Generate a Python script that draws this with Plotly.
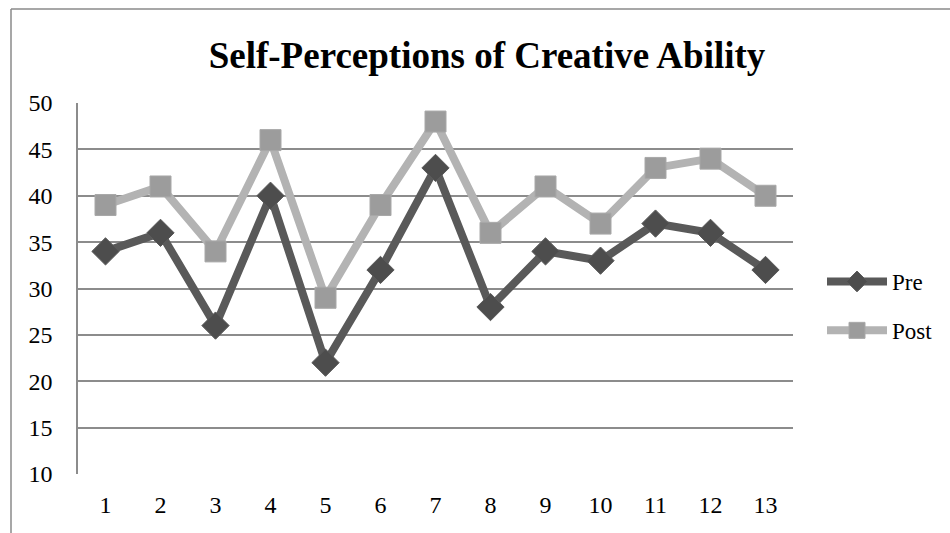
import plotly.graph_objects as go

# Survey items 1-13, scores before and after
items = [str(i) for i in range(1, 14)]
pre_scores = [34, 36, 26, 40, 22, 32, 43, 28, 34, 33, 37, 36, 32]
post_scores = [39, 41, 34, 46, 29, 39, 48, 36, 41, 37, 43, 44, 40]
y_ticks = [10, 15, 20, 25, 30, 35, 40, 45, 50]

W, H = 950, 533
L, R, T, B = 78, 157, 103, 59
pw, ph = W - L - R, H - T - B

FONT = "Liberation Serif"
GRID = "#8c8c8c"

fig = go.Figure()
fig.add_trace(go.Scatter(
    x=items, y=pre_scores, name="Pre", mode="lines+markers",
    legendgroup="pre",
    line=dict(color="#595959", width=8),
    marker=dict(symbol="diamond", size=21, color="#4d4d4d",
                line=dict(color="#5a5a5a", width=1)),
))
fig.add_trace(go.Scatter(
    x=items, y=post_scores, name="Post", mode="lines+markers",
    legendgroup="post",
    line=dict(color="#b3b3b3", width=8),
    marker=dict(symbol="square", size=21, color="#9c9c9c",
                line=dict(color="#a8a8a8", width=1)),
))


def px_x(v):
    return (v - L) / pw


def px_y(v):
    return (H - B - v) / ph


# outer frame (top and left edges)
fig.add_shape(type="line", xref="paper", yref="paper",
              x0=px_x(11), y0=px_y(H + 5), x1=px_x(11), y1=px_y(9),
              line=dict(color="#8a8a8a", width=1.5))
fig.add_shape(type="line", xref="paper", yref="paper",
              x0=px_x(11), y0=px_y(9), x1=px_x(W + 5), y1=px_y(9),
              line=dict(color="#8a8a8a", width=1.5))

fig.update_layout(
    width=W, height=H,
    margin=dict(l=L, r=R, t=T, b=B),
    paper_bgcolor="white", plot_bgcolor="white",
    font=dict(family=FONT, color="black", size=24),
    title=dict(text="<b>Self-Perceptions of Creative Ability</b>",
               x=(487) / W, xanchor="center", y=1 - 55 / H, yanchor="middle",
               font=dict(family=FONT, size=37, color="black")),
    showlegend=True,
    legend=dict(x=px_x(822), y=px_y(306), xanchor="left", yanchor="middle",
                font=dict(family=FONT, size=23, color="black"),
                traceorder="grouped", tracegroupgap=16,
                bgcolor="rgba(0,0,0,0)", itemwidth=60),
    xaxis=dict(type="category", range=[-0.5, 12.5],
               showgrid=False, showline=False, zeroline=False,
               ticks="", ticklabelstandoff=14,
               tickfont=dict(family=FONT, size=24, color="black")),
    yaxis=dict(range=[10, 50], tickvals=y_ticks,
               showgrid=True, gridcolor=GRID, gridwidth=1.5,
               showline=True, linecolor=GRID, linewidth=1.5,
               zeroline=False, ticks="", ticklabelstandoff=19,
               tickfont=dict(family=FONT, size=24, color="black")),
)

fig.write_html("out.html")
